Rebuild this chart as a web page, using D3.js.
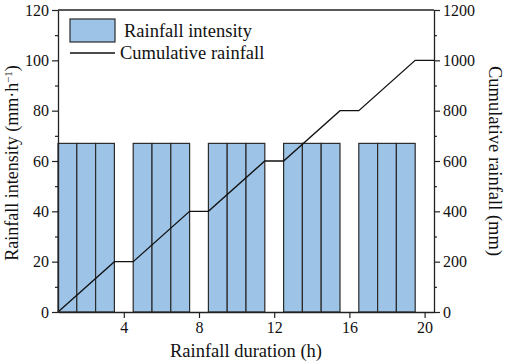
<!DOCTYPE html>
<html>
<head>
<meta charset="utf-8">
<script src="https://cdn.jsdelivr.net/npm/d3@7"></script>
<style>
  html, body { margin: 0; padding: 0; background: #fff; }
  svg text { font-family: "Liberation Serif", "DejaVu Serif", serif; fill: #111; }
</style>
</head>
<body>
<div id="chart"></div>
<script>
// ---- data ----
const hours = [1, 2, 3, 5, 6, 7, 9, 10, 11, 13, 14, 15, 17, 18, 19];
const intensity = [67, 67, 67, 67, 67, 67, 67, 67, 67, 67, 67, 67, 67, 67, 67];
const cumTime = [0.5, 3.5, 4.5, 7.5, 8.5, 11.5, 12.5, 15.5, 16.5, 19.5, 20.5];
const cumRain = [0, 200, 200, 400, 400, 600, 600, 800, 800, 1000, 1000];
const xTicks = [4, 8, 12, 16, 20];
const leftTicks = [0, 20, 40, 60, 80, 100, 120];
const rightTicks = [0, 200, 400, 600, 800, 1000, 1200];

const W = 505, H = 364;
const margin = { top: 10, right: 71, bottom: 52, left: 58 };
const width = W - margin.left - margin.right;
const height = H - margin.top - margin.bottom;

const svg = d3.select("#chart").append("svg")
  .attr("width", W).attr("height", H);
const g = svg.append("g")
  .attr("transform", `translate(${margin.left},${margin.top})`);

const x = d3.scaleLinear().domain([0.5, 20.5]).range([0, width]);
const yL = d3.scaleLinear().domain([0, 120]).range([height, 0]);
const yR = d3.scaleLinear().domain([0, 1200]).range([height, 0]);

const bars = hours.map((h, i) => ({ h, v: intensity[i] }));
const cum = cumTime.map((t, i) => ({ t, v: cumRain[i] }));

// bars
g.selectAll(".bar").data(bars).enter().append("rect")
  .attr("class", "bar")
  .attr("x", d => x(d.h - 0.5))
  .attr("y", d => yL(d.v))
  .attr("width", d => x(d.h + 0.5) - x(d.h - 0.5))
  .attr("height", d => height - yL(d.v))
  .attr("fill", "#9dc3e6")
  .attr("stroke", "#2b2b2b")
  .attr("stroke-width", 1.2);

// cumulative line
g.append("path")
  .datum(cum)
  .attr("fill", "none")
  .attr("stroke", "#111")
  .attr("stroke-width", 1.3)
  .attr("d", d3.line().x(d => x(d.t)).y(d => yR(d.v)));

// frame (top)
g.append("line")
  .attr("x1", 0).attr("x2", width).attr("y1", 0).attr("y2", 0)
  .attr("stroke", "#222").attr("stroke-width", 1.3);

function styleAxis(sel) {
  sel.select(".domain").attr("stroke", "#222").attr("stroke-width", 1.3);
  sel.selectAll(".tick line").attr("stroke", "#222").attr("stroke-width", 1.2);
  sel.selectAll(".tick text").style("font-size", "16px").attr("fill", "#111");
}

// minor ticks
g.append("g")
  .call(d3.axisLeft(yL).tickValues(d3.range(10, 120, 20)).tickSize(3).tickFormat(""))
  .call(s => s.select(".domain").remove())
  .selectAll("line").attr("stroke", "#222").attr("stroke-width", 1.2);
g.append("g")
  .attr("transform", `translate(${width},0)`)
  .call(d3.axisRight(yR).tickValues(d3.range(100, 1200, 200)).tickSize(3).tickFormat(""))
  .call(s => s.select(".domain").remove())
  .selectAll("line").attr("stroke", "#222").attr("stroke-width", 1.2);

// axes
g.append("g")
  .attr("transform", `translate(0,${height})`)
  .call(d3.axisBottom(x).tickValues(xTicks).tickSize(6).tickSizeOuter(0).tickPadding(4))
  .call(styleAxis);

g.append("g")
  .call(d3.axisLeft(yL).tickValues(leftTicks).tickSize(6).tickSizeOuter(0).tickPadding(3))
  .call(styleAxis);

g.append("g")
  .attr("transform", `translate(${width},0)`)
  .call(d3.axisRight(yR).tickValues(rightTicks).tickFormat(d3.format("d"))
    .tickSize(6).tickSizeOuter(0).tickPadding(3))
  .call(styleAxis);

// axis titles
svg.append("text")
  .attr("x", margin.left + width / 2).attr("y", 357)
  .attr("text-anchor", "middle")
  .style("font-size", "18.5px")
  .text("Rainfall duration (h)");

svg.append("text")
  .attr("transform", `translate(18,${margin.top + height / 2 + 2}) rotate(-90)`)
  .attr("text-anchor", "middle")
  .style("font-size", "18px")
  .html('Rainfall intensity (mm·h<tspan dy="-6" font-size="11px">−1</tspan><tspan dy="6">)</tspan>');

svg.append("text")
  .attr("transform", `translate(489,${margin.top + height / 2}) rotate(90)`)
  .attr("text-anchor", "middle")
  .style("font-size", "18.5px")
  .text("Cumulative rainfall (mm)");

// legend
const lg = svg.append("g");
lg.append("rect")
  .attr("x", 70).attr("y", 19).attr("width", 45).attr("height", 23)
  .attr("fill", "#9dc3e6").attr("stroke", "#2b2b2b").attr("stroke-width", 1.2);
lg.append("text")
  .attr("x", 124).attr("y", 37)
  .style("font-size", "18.5px")
  .text("Rainfall intensity");
lg.append("line")
  .attr("x1", 70).attr("x2", 115).attr("y1", 53).attr("y2", 53)
  .attr("stroke", "#111").attr("stroke-width", 1.3);
lg.append("text")
  .attr("x", 120).attr("y", 59)
  .style("font-size", "18.5px")
  .text("Cumulative rainfall");
</script>
</body>
</html>
